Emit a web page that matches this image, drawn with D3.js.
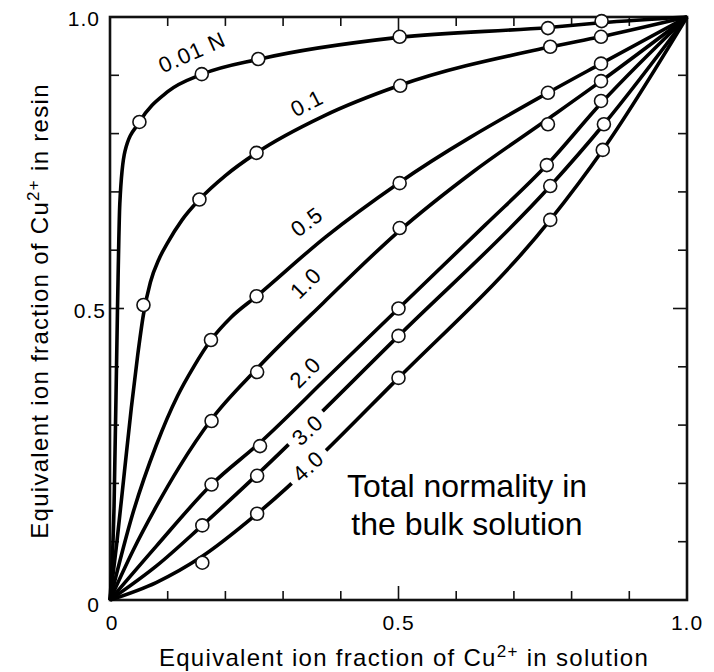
<!DOCTYPE html>
<html>
<head>
<meta charset="utf-8">
<script src="https://cdn.jsdelivr.net/npm/d3@7"></script>
<style>
  body { margin: 0; background: #fff; }
  text { font-family: "Liberation Sans", Arial, sans-serif; fill: #000; }
</style>
</head>
<body>
<div class="canvas"></div>
<script>
// Series names (total normality)
const seriesNames = ["0.01 N", "0.1", "0.5", "1.0", "2.0", "3.0", "4.0"];

// Smooth curves [x in solution, y in resin]
const curve001 = [[0,0],[0.007,0.16],[0.013,0.5],[0.017,0.68],[0.026,0.77],[0.051,0.82],[0.1,0.872],[0.16,0.902],[0.26,0.928],[0.5,0.965],[0.76,0.982],[0.85,0.99],[1,1]];
const curve01  = [[0,0],[0.012,0.1],[0.025,0.22],[0.037,0.33],[0.048,0.42],[0.058,0.49],[0.07,0.545],[0.085,0.585],[0.1,0.613],[0.125,0.652],[0.155,0.687],[0.2,0.728],[0.254,0.767],[0.37,0.83],[0.5,0.882],[0.76,0.948],[0.85,0.966],[1,1]];
const curve05  = [[0,0],[0.04,0.15],[0.08,0.265],[0.117,0.35],[0.145,0.40],[0.175,0.446],[0.21,0.485],[0.254,0.521],[0.374,0.623],[0.5,0.715],[0.759,0.870],[0.851,0.920],[1,1]];
const curve10  = [[0,0],[0.04,0.085],[0.08,0.16],[0.12,0.228],[0.176,0.31],[0.255,0.397],[0.37,0.51],[0.5,0.632],[0.63,0.735],[0.759,0.825],[0.851,0.89],[1,1]];
const curve20  = [[0,0],[0.08,0.092],[0.176,0.198],[0.26,0.27],[0.38,0.385],[0.5,0.5],[0.65,0.643],[0.757,0.746],[0.851,0.852],[1,1]];
const curve30  = [[0,0],[0.08,0.058],[0.16,0.128],[0.255,0.215],[0.5,0.453],[0.763,0.710],[0.856,0.816],[1,1]];
const curve40  = [[0,0],[0.08,0.03],[0.16,0.075],[0.255,0.148],[0.5,0.381],[0.763,0.652],[0.854,0.772],[1,1]];

// Measured points (open circles)
const pts001 = [[0.051,0.820],[0.159,0.902],[0.257,0.928],[0.502,0.966],[0.759,0.981],[0.852,0.993]];
const pts01  = [[0.058,0.506],[0.155,0.687],[0.254,0.767],[0.503,0.882],[0.763,0.949],[0.851,0.966]];
const pts05  = [[0.175,0.446],[0.254,0.521],[0.502,0.715],[0.759,0.870],[0.851,0.920]];
const pts10  = [[0.176,0.307],[0.255,0.391],[0.502,0.638],[0.759,0.816],[0.851,0.890]];
const pts20  = [[0.176,0.198],[0.260,0.264],[0.500,0.500],[0.757,0.746],[0.851,0.856]];
const pts30  = [[0.160,0.128],[0.255,0.213],[0.500,0.453],[0.763,0.710],[0.856,0.816]];
const pts40  = [[0.160,0.064],[0.255,0.148],[0.500,0.381],[0.763,0.652],[0.854,0.772]];

// Curve label anchors [x, y] in data units, with text angle
const labelPos = [[0.142,0.94],[0.341,0.853],[0.341,0.649],[0.339,0.544],[0.338,0.391],[0.342,0.292],[0.343,0.230]];
const labelAngle = [-24, -27, -37, -45, -45, -43, -43];

const xTickLabels = [0, 0.5, 1.0];
const yTickLabels = [0, 0.5, 1.0];

const curves = [curve001, curve01, curve05, curve10, curve20, curve30, curve40];
const points = [pts001, pts01, pts05, pts10, pts20, pts30, pts40];

const width = 714, height = 672;
const svg = d3.select(".canvas").append("svg")
    .attr("width", width)
    .attr("height", height);

const x = d3.scaleLinear().domain([0, 1]).range([110, 687]);
const y = d3.scaleLinear().domain([0, 1]).range([600, 17]);

// ticks (inward on all four sides), 0.5 ticks longer
const tickVals = d3.range(1, 10).map(d => d / 10);
const tlen = d => (Math.abs(d - 0.5) < 1e-6 ? 14 : 9);
const ticks = svg.append("g").attr("stroke", "#111").attr("stroke-width", 1.6);
ticks.selectAll(".tb").data(tickVals).enter().append("line")
    .attr("x1", d => x(d)).attr("x2", d => x(d))
    .attr("y1", y(0)).attr("y2", d => y(0) - tlen(d));
ticks.selectAll(".tt").data(tickVals).enter().append("line")
    .attr("x1", d => x(d)).attr("x2", d => x(d))
    .attr("y1", y(1)).attr("y2", d => y(1) + tlen(d));
ticks.selectAll(".tl").data(tickVals).enter().append("line")
    .attr("y1", d => y(d)).attr("y2", d => y(d))
    .attr("x1", x(0)).attr("x2", d => x(0) + tlen(d));
ticks.selectAll(".tr").data(tickVals).enter().append("line")
    .attr("y1", d => y(d)).attr("y2", d => y(d))
    .attr("x1", x(1)).attr("x2", d => x(1) - tlen(d));

// frame
svg.append("rect")
    .attr("x", x(0)).attr("y", y(1))
    .attr("width", x(1) - x(0)).attr("height", y(0) - y(1))
    .attr("fill", "none").attr("stroke", "#111").attr("stroke-width", 2.6);

// tick labels
svg.selectAll(".xl").data(xTickLabels).enter().append("text")
    .attr("x", d => x(d) + (d === 0 ? 2 : 0))
    .attr("y", 630)
    .attr("text-anchor", "middle")
    .attr("font-size", 21)
    .attr("letter-spacing", 1)
    .text(d => d === 0 ? "0" : d.toFixed(1));
svg.selectAll(".yl").data(yTickLabels).enter().append("text")
    .attr("x", d => d === 0.5 ? 106 : 100)
    .attr("y", d => y(d) + (d === 0 ? 12 : 9))
    .attr("text-anchor", "end")
    .attr("font-size", 21)
    .attr("letter-spacing", 1)
    .text(d => d === 0 ? "0" : d.toFixed(1));

// curves
const line = d3.line().x(d => x(d[0])).y(d => y(d[1])).curve(d3.curveMonotoneX);
svg.append("g").selectAll("path").data(curves).enter().append("path")
    .attr("d", line)
    .attr("fill", "none")
    .attr("stroke", "#000")
    .attr("stroke-width", 3.6)
    .attr("stroke-linejoin", "round");

// curve labels, each on a white box so the 3.0 and 4.0 lines are broken
const labels = svg.append("g").selectAll("g").data(seriesNames).enter().append("g")
    .attr("transform", (d, i) => `translate(${x(labelPos[i][0])},${y(labelPos[i][1])}) rotate(${labelAngle[i]})`);
labels.append("text")
    .attr("text-anchor", "middle")
    .attr("dy", "0.36em")
    .attr("font-size", 22)
    .attr("letter-spacing", 1)
    .text(d => d);
labels.each(function () {
    const g = d3.select(this);
    const b = g.select("text").node().getBBox();
    g.insert("rect", "text")
        .attr("x", b.x - 7).attr("y", b.y + 2)
        .attr("width", b.width + 14).attr("height", b.height - 4)
        .attr("fill", "#fff");
});

// data circles
svg.append("g").selectAll("circle").data(points.flat()).enter().append("circle")
    .attr("cx", d => x(d[0]))
    .attr("cy", d => y(d[1]))
    .attr("r", 6.5)
    .attr("fill", "#fff")
    .attr("stroke", "#111")
    .attr("stroke-width", 1.6);

// note
const note = svg.append("text")
    .attr("x", 467).attr("y", 497)
    .attr("text-anchor", "middle")
    .attr("font-size", 32);
note.append("tspan").attr("x", 467).text("Total normality in");
note.append("tspan").attr("x", 467).attr("dy", 38).text("the bulk solution");

// axis titles
const xt = svg.append("text")
    .attr("x", 404).attr("y", 666)
    .attr("text-anchor", "middle")
    .attr("font-size", 24)
    .attr("letter-spacing", 1.3);
xt.append("tspan").text("Equivalent ion fraction of Cu");
xt.append("tspan").attr("font-size", 17).attr("dy", -9).text("2+");
xt.append("tspan").attr("dy", 9).text(" in solution");

const yt = svg.append("text")
    .attr("transform", "translate(48,311) rotate(-90)")
    .attr("text-anchor", "middle")
    .attr("font-size", 24)
    .attr("letter-spacing", 1.3);
yt.append("tspan").text("Equivalent ion fraction of Cu");
yt.append("tspan").attr("font-size", 17).attr("dy", -9).text("2+");
yt.append("tspan").attr("dy", 9).text(" in resin");
</script>
</body>
</html>
